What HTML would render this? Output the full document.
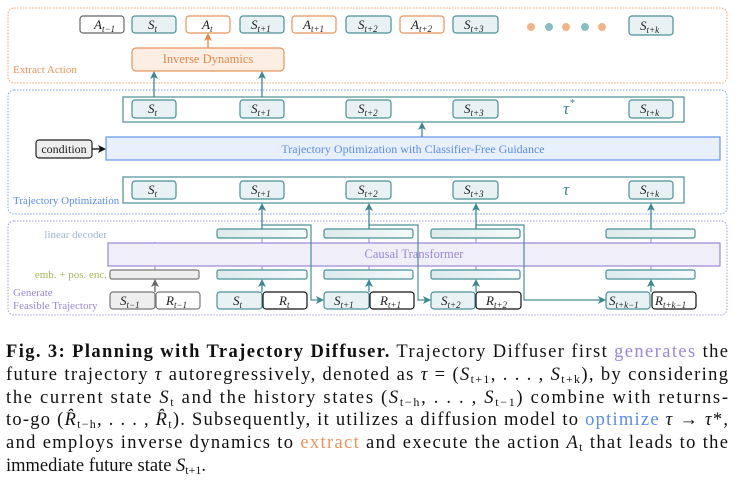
<!DOCTYPE html>
<html><head><meta charset="utf-8"><style>
html,body{margin:0;padding:0;background:#fff;}
svg{display:block;}
.m{font-family:"Liberation Serif",serif;font-style:italic;font-size:13px;fill:#222;}
.s{font-size:9px;}
.c{font-family:"Liberation Serif",serif;font-size:18.5px;fill:#111;}
</style></head><body>
<svg width="738" height="483" viewBox="0 0 738 483" xmlns="http://www.w3.org/2000/svg">
<defs>
<marker id="at" markerWidth="8" markerHeight="8" refX="6" refY="4" orient="auto" markerUnits="userSpaceOnUse"><path d="M0,0 L8,4 L0,8 L2,4z" fill="#3f8790"/></marker>
<marker id="ao" markerWidth="8" markerHeight="8" refX="6" refY="4" orient="auto" markerUnits="userSpaceOnUse"><path d="M0,0 L8,4 L0,8 L2,4z" fill="#e0884a"/></marker>
<marker id="ag" markerWidth="8" markerHeight="8" refX="6" refY="4" orient="auto" markerUnits="userSpaceOnUse"><path d="M0,0 L8,4 L0,8 L2,4z" fill="#666"/></marker>
<marker id="ak" markerWidth="8" markerHeight="8" refX="6" refY="4" orient="auto" markerUnits="userSpaceOnUse"><path d="M0,0 L8,4 L0,8 L2,4z" fill="#111"/></marker>
<linearGradient id="gb" x1="0" x2="1"><stop offset="0" stop-color="#dde9ec"/><stop offset="1" stop-color="#f6fafb"/></linearGradient>
</defs>

<rect x="8" y="8" width="719" height="75" rx="6" fill="none" stroke="#eea36c" stroke-dasharray="1.5,1.5"/>
<text x="13" y="73" font-family="Liberation Serif" font-size="11" fill="#e8955a">Extract Action</text>

<g stroke-width="1.2">
<rect x="80" y="16" width="44" height="17" rx="3" fill="#fff" stroke="#666"/>
<rect x="132" y="16" width="44" height="17" rx="3" fill="#e8f1f3" stroke="#4a8f96"/>
<rect x="186" y="16" width="44" height="17" rx="3" fill="#fff" stroke="#e8955a"/>
<rect x="240" y="16" width="44" height="17" rx="3" fill="#e8f1f3" stroke="#4a8f96"/>
<rect x="292" y="16" width="44" height="17" rx="3" fill="#fff" stroke="#e8955a"/>
<rect x="346" y="16" width="45" height="17" rx="3" fill="#e8f1f3" stroke="#4a8f96"/>
<rect x="400" y="16" width="44" height="17" rx="3" fill="#fff" stroke="#e8955a"/>
<rect x="453" y="16" width="45" height="17" rx="3" fill="#e8f1f3" stroke="#4a8f96"/>
<rect x="629" y="16" width="44" height="19" rx="3" fill="#e8f1f3" stroke="#4a8f96"/>
</g>
<text class="m" x="94" y="29">A<tspan class="s" dy="3">t−1</tspan></text>
<text class="m" x="148" y="29">S<tspan class="s" dy="3">t</tspan></text>
<text class="m" x="202" y="29">A<tspan class="s" dy="3">t</tspan></text>
<text class="m" x="251" y="29">S<tspan class="s" dy="3">t+1</tspan></text>
<text class="m" x="303" y="29">A<tspan class="s" dy="3">t+1</tspan></text>
<text class="m" x="358" y="29">S<tspan class="s" dy="3">t+2</tspan></text>
<text class="m" x="411" y="29">A<tspan class="s" dy="3">t+2</tspan></text>
<text class="m" x="464" y="29">S<tspan class="s" dy="3">t+3</tspan></text>
<text class="m" x="640" y="30">S<tspan class="s" dy="3">t+k</tspan></text>
<circle cx="531" cy="27" r="4" fill="#f0b48a"/><circle cx="549" cy="27" r="4" fill="#8dbcc1"/><circle cx="566" cy="27" r="4" fill="#f0b48a"/><circle cx="585" cy="27" r="4" fill="#8dbcc1"/><circle cx="602" cy="27" r="4" fill="#f0b48a"/>

<rect x="132" y="48" width="152" height="23" rx="4" fill="#fdeee4" stroke="#e8955a" stroke-width="1.2"/>
<text x="208" y="63" text-anchor="middle" font-family="Liberation Serif" font-size="12.5" fill="#e0884a">Inverse Dynamics</text>
<line x1="208" y1="48" x2="208" y2="35" stroke="#e0884a" stroke-width="1.3" marker-end="url(#ao)"/>
<line x1="154" y1="97" x2="154" y2="73" stroke="#3f8790" stroke-width="1.3" marker-end="url(#at)"/>
<line x1="262" y1="97" x2="262" y2="73" stroke="#3f8790" stroke-width="1.3" marker-end="url(#at)"/>

<rect x="8" y="90" width="719" height="124" rx="6" fill="none" stroke="#7aa6ee" stroke-dasharray="1.5,1.5"/>
<text x="13" y="204" font-family="Liberation Serif" font-size="11" fill="#5b8de6">Trajectory Optimization</text>

<rect x="123" y="97" width="561" height="25" fill="#fff" stroke="#4a8f96" stroke-width="1.2"/>
<g stroke-width="1.2" fill="#e8f1f3" stroke="#4a8f96">
<rect x="132" y="100" width="44" height="18" rx="3"/><rect x="240" y="100" width="44" height="18" rx="3"/><rect x="346" y="100" width="45" height="18" rx="3"/><rect x="453" y="100" width="45" height="18" rx="3"/><rect x="629" y="100" width="44" height="18" rx="3"/>
</g>
<text class="m" x="148" y="113">S<tspan class="s" dy="3">t</tspan></text>
<text class="m" x="251" y="113">S<tspan class="s" dy="3">t+1</tspan></text>
<text class="m" x="358" y="113">S<tspan class="s" dy="3">t+2</tspan></text>
<text class="m" x="464" y="113">S<tspan class="s" dy="3">t+3</tspan></text>
<text class="m" x="640" y="113">S<tspan class="s" dy="3">t+k</tspan></text>
<text x="563" y="114" font-family="Liberation Serif" font-style="italic" font-size="17" fill="#3f8790">τ<tspan font-size="11" dy="-8">*</tspan></text>

<rect x="36" y="140" width="56" height="18" rx="3" fill="#eee" stroke="#222" stroke-width="1.2"/>
<text x="64" y="153" text-anchor="middle" font-family="Liberation Serif" font-size="12" fill="#222">condition</text>
<line x1="92" y1="149" x2="104" y2="149" stroke="#111" stroke-width="1.3" marker-end="url(#ak)"/>
<rect x="106" y="137" width="614" height="23" fill="#e8f0fd" stroke="#6495ed" stroke-width="1.2"/>
<text x="413" y="153" text-anchor="middle" font-family="Liberation Serif" font-size="12" fill="#5b8de6">Trajectory Optimization with Classifier-Free Guidance</text>
<line x1="422" y1="137" x2="422" y2="124" stroke="#3f8790" stroke-width="1.3" marker-end="url(#at)"/>

<rect x="123" y="177" width="561" height="26" fill="#fff" stroke="#4a8f96" stroke-width="1.2"/>
<g stroke-width="1.2" fill="#e8f1f3" stroke="#4a8f96">
<rect x="132" y="181" width="44" height="18" rx="3"/><rect x="240" y="181" width="44" height="18" rx="3"/><rect x="346" y="181" width="45" height="18" rx="3"/><rect x="453" y="181" width="45" height="18" rx="3"/><rect x="629" y="181" width="44" height="18" rx="3"/>
</g>
<text class="m" x="148" y="194">S<tspan class="s" dy="3">t</tspan></text>
<text class="m" x="251" y="194">S<tspan class="s" dy="3">t+1</tspan></text>
<text class="m" x="358" y="194">S<tspan class="s" dy="3">t+2</tspan></text>
<text class="m" x="464" y="194">S<tspan class="s" dy="3">t+3</tspan></text>
<text class="m" x="640" y="194">S<tspan class="s" dy="3">t+k</tspan></text>
<text x="563" y="195" font-family="Liberation Serif" font-style="italic" font-size="17" fill="#3f8790">τ</text>

<rect x="8" y="221" width="719" height="94" rx="6" fill="none" stroke="#a99ad8" stroke-dasharray="1.5,1.5"/>
<text x="107" y="238" text-anchor="end" font-family="Liberation Serif" font-size="11" fill="#9fb3d8">linear decoder</text>
<text x="107" y="278" text-anchor="end" font-family="Liberation Serif" font-size="11" fill="#a9b85c">emb. + pos. enc.</text>
<text x="13" y="296" font-family="Liberation Serif" font-size="11" fill="#9b87d6">Generate</text>
<text x="13" y="309" font-family="Liberation Serif" font-size="11" fill="#9b87d6">Feasible Trajectory</text>

<g stroke="#9b87d6" stroke-width="1">
<line x1="155" y1="242" x2="155" y2="270"/><line x1="262" y1="238" x2="262" y2="270"/><line x1="369" y1="238" x2="369" y2="270"/><line x1="476" y1="238" x2="476" y2="270"/><line x1="651" y1="238" x2="651" y2="270"/>
</g>
<rect x="108" y="243" width="612" height="23" fill="#f0eef8" stroke="#9b87d6" stroke-width="1.2"/>
<text x="414" y="258" text-anchor="middle" font-family="Liberation Serif" font-size="12.5" fill="#9b87d6">Causal Transformer</text>

<g stroke="#4a8f96" stroke-width="1.2" fill="url(#gb)">
<rect x="217" y="229" width="90" height="9" rx="2"/><rect x="324" y="229" width="89" height="9" rx="2"/><rect x="431" y="229" width="89" height="9" rx="2"/><rect x="606" y="229" width="89" height="9" rx="2"/>
<rect x="217" y="270" width="90" height="9" rx="2"/><rect x="324" y="270" width="89" height="9" rx="2"/><rect x="431" y="270" width="89" height="9" rx="2"/><rect x="606" y="270" width="89" height="9" rx="2"/>
</g>
<rect x="110" y="270" width="89" height="9" rx="2" fill="#eee" stroke="#777" stroke-width="1.2"/>

<g fill="none" stroke="#4a8f96" stroke-width="1.2">
<polyline points="262,225 311,225 311,300 322,300" marker-end="url(#at)"/>
<polyline points="369,225 418,225 418,300 429,300" marker-end="url(#at)"/>
<polyline points="476,225 524,225 524,300 604,300" marker-end="url(#at)"/>
</g>
<g stroke="#3f8790" stroke-width="1.3">
<line x1="262" y1="229" x2="262" y2="205" marker-end="url(#at)"/>
<line x1="369" y1="229" x2="369" y2="205" marker-end="url(#at)"/>
<line x1="476" y1="229" x2="476" y2="205" marker-end="url(#at)"/>
<line x1="651" y1="229" x2="651" y2="205" marker-end="url(#at)"/>
<line x1="262" y1="292" x2="262" y2="281" marker-end="url(#at)"/>
<line x1="369" y1="292" x2="369" y2="281" marker-end="url(#at)"/>
<line x1="476" y1="292" x2="476" y2="281" marker-end="url(#at)"/>
<line x1="651" y1="292" x2="651" y2="281" marker-end="url(#at)"/>
</g>
<line x1="155" y1="292" x2="155" y2="281" stroke="#666" stroke-width="1.3" marker-end="url(#ag)"/>

<rect x="110" y="292" width="45" height="17" rx="3" fill="#eee" stroke="#777" stroke-width="1.2"/>
<rect x="156" y="292" width="44" height="17" rx="3" fill="#fff" stroke="#777" stroke-width="1.2"/>
<g stroke-width="1.2">
<rect x="217" y="292" width="45" height="17" rx="3" fill="#e8f1f3" stroke="#4a8f96"/><rect x="263" y="292" width="44" height="17" rx="3" fill="#fff" stroke="#111"/>
<rect x="324" y="292" width="45" height="17" rx="3" fill="#e8f1f3" stroke="#4a8f96"/><rect x="370" y="292" width="44" height="17" rx="3" fill="#fff" stroke="#111"/>
<rect x="431" y="292" width="44" height="17" rx="3" fill="#e8f1f3" stroke="#4a8f96"/><rect x="476" y="292" width="45" height="17" rx="3" fill="#fff" stroke="#111"/>
<rect x="606" y="292" width="44" height="17" rx="3" fill="#e8f1f3" stroke="#4a8f96"/><rect x="652" y="292" width="44" height="17" rx="3" fill="#fff" stroke="#111"/>
</g>
<text class="m" x="120" y="305">S<tspan class="s" dy="3">t−1</tspan></text>
<text class="m" x="166" y="305">R<tspan class="s" dy="3">t−1</tspan></text>
<text class="m" x="233" y="305">S<tspan class="s" dy="3">t</tspan></text>
<text class="m" x="279" y="305">R<tspan class="s" dy="3">t</tspan></text>
<text class="m" x="334" y="305">S<tspan class="s" dy="3">t+1</tspan></text>
<text class="m" x="380" y="305">R<tspan class="s" dy="3">t+1</tspan></text>
<text class="m" x="441" y="305">S<tspan class="s" dy="3">t+2</tspan></text>
<text class="m" x="486" y="305">R<tspan class="s" dy="3">t+2</tspan></text>
<text class="m" x="609" y="305">S<tspan class="s" dy="3">t+k−1</tspan></text>
<text class="m" x="655" y="305">R<tspan class="s" dy="3">t+k−1</tspan></text>

<text class="c" x="6" y="357" textLength="722" lengthAdjust="spacing"><tspan font-weight="bold">Fig. 3: Planning with Trajectory Diffuser.</tspan> Trajectory Diffuser first <tspan fill="#9b87d6">generates</tspan> the</text>
<text class="c" x="6" y="380" textLength="722" lengthAdjust="spacing">future trajectory <tspan font-style="italic">τ</tspan> autoregressively, denoted as <tspan font-style="italic">τ</tspan> = (<tspan font-style="italic">S</tspan><tspan font-size="12" dy="3">t+1</tspan><tspan dy="-3">, . . . , </tspan><tspan font-style="italic">S</tspan><tspan font-size="12" dy="3">t+k</tspan><tspan dy="-3">), by considering</tspan></text>
<text class="c" x="6" y="403" textLength="722" lengthAdjust="spacing">the current state <tspan font-style="italic">S</tspan><tspan font-size="12" dy="3">t</tspan><tspan dy="-3"> and the history states (</tspan><tspan font-style="italic">S</tspan><tspan font-size="12" dy="3">t−h</tspan><tspan dy="-3">, . . . , </tspan><tspan font-style="italic">S</tspan><tspan font-size="12" dy="3">t−1</tspan><tspan dy="-3">) combine with returns-</tspan></text>
<text class="c" x="6" y="425" textLength="722" lengthAdjust="spacing">to-go (<tspan font-style="italic">R̂</tspan><tspan font-size="12" dy="3">t−h</tspan><tspan dy="-3">, . . . , </tspan><tspan font-style="italic">R̂</tspan><tspan font-size="12" dy="3">t</tspan><tspan dy="-3">). Subsequently, it utilizes a diffusion model to </tspan><tspan fill="#5b8de6">optimize</tspan> <tspan font-style="italic">τ</tspan> → <tspan font-style="italic">τ</tspan>*,</text>
<text class="c" x="6" y="448" textLength="722" lengthAdjust="spacing">and employs inverse dynamics to <tspan fill="#e8955a">extract</tspan> and execute the action <tspan font-style="italic">A</tspan><tspan font-size="12" dy="3">t</tspan><tspan dy="-3"> that leads to the</tspan></text>
<text class="c" x="6" y="471">immediate future state <tspan font-style="italic">S</tspan><tspan font-size="12" dy="3">t+1</tspan><tspan dy="-3">.</tspan></text>
</svg>
</body></html>
